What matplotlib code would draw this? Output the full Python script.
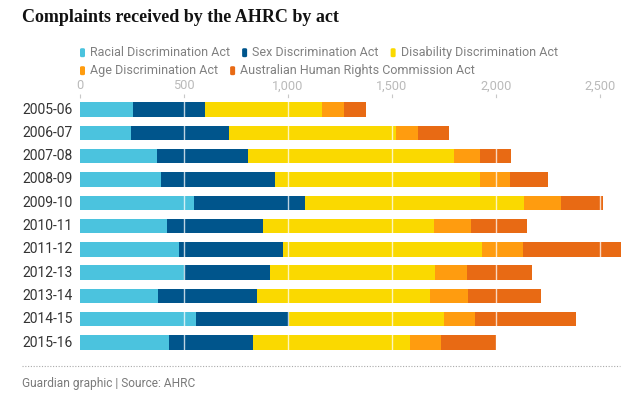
import matplotlib
matplotlib.use("Agg")
import matplotlib.pyplot as plt
from matplotlib.patches import FancyBboxPatch
from matplotlib.lines import Line2D
import numpy as np

years = ["2005-06", "2006-07", "2007-08", "2008-09", "2009-10", "2010-11",
         "2011-12", "2012-13", "2013-14", "2014-15", "2015-16"]
racial = [255, 244, 371, 390, 549, 417, 475, 502, 376, 558, 428]
sex = [347, 472, 438, 550, 533, 463, 502, 410, 475, 445, 405]
disability = [563, 804, 992, 983, 1054, 821, 958, 794, 833, 750, 753]
age = [106, 107, 125, 147, 177, 178, 198, 157, 181, 149, 152]
ahrc = [103, 148, 149, 182, 205, 270, 472, 313, 353, 486, 262]

series_names = ["Racial Discrimination Act", "Sex Discrimination Act",
                "Disability Discrimination Act", "Age Discrimination Act",
                "Australian Human Rights Commission Act"]
series_vals = [racial, sex, disability, age, ahrc]
colors = ["#4bc3de", "#00558c", "#fad900", "#ff9c0f", "#e86a14"]
xticks = [0, 500, 1000, 1500, 2000, 2500]
xticklabels = ["0", "500", "1,000", "1,500", "2,000", "2,500"]

W, H = 640, 400
fig = plt.figure(figsize=(6.4, 4.0), dpi=100)
fig.patch.set_facecolor("white")

def fx(px):
    return px / W

def fy(py):
    return 1 - py / H

SANS = "Roboto"
PX_PER_UNIT = 0.2079

# axes placement
left_px, right_px = 80, 80 + 2600 * PX_PER_UNIT
top_px, bot_px = 97.9, 354.2
ax = fig.add_axes([fx(left_px), fy(bot_px), fx(right_px - left_px), (bot_px - top_px) / H])

y = np.arange(len(years))
base = np.zeros(len(years))
for name, vals, c in zip(series_names, series_vals, colors):
    ax.barh(y, vals, left=base, height=0.62, color=c, edgecolor="none", zorder=2)
    base = base + np.array(vals)

ax.set_xlim(0, 2600)
ax.set_ylim(len(years) - 0.5, -0.5)
ax.set_yticks([])
ax.xaxis.tick_top()
ax.set_xticks(xticks)
ax.set_xticklabels(xticklabels, fontsize=9.2, color="#bababa", family=SANS)
ax.tick_params(axis="x", length=3, width=0.8, color="#c8c8c8", pad=1)
for s in ax.spines.values():
    s.set_visible(False)
for xv in xticks[1:]:
    ax.axvline(xv, color="white", lw=1.0, alpha=0.75, zorder=3)

# year labels (left of the plot area)
for i, yr in enumerate(years):
    ax.text((22 - left_px) / PX_PER_UNIT, i, yr,
            ha="left", va="center", fontsize=10, color="#333333", family=SANS)

# title
fig.text(fx(22), fy(17), "Complaints received by the AHRC by act", fontsize=13,
         fontweight="bold", family="Liberation Serif", color="#121212",
         ha="left", va="center")

# legend (flow layout)
fig.canvas.draw()
renderer = fig.canvas.get_renderer()
rows = [[0, 1, 2], [3, 4]]
row_y = [52.7, 70.7]
for r, items in enumerate(rows):
    xcur = 80
    for k in items:
        fig.patches.append(FancyBboxPatch((fx(xcur), fy(row_y[r] + 4.5)), fx(5), 9 / H,
                                          boxstyle="round,pad=0,rounding_size=0.003",
                                          transform=fig.transFigure, facecolor=colors[k],
                                          edgecolor="none"))
        t = fig.text(fx(xcur + 10), fy(row_y[r]), series_names[k], fontsize=9.0,
                     color="#808080", family=SANS, ha="left", va="center")
        bb = t.get_window_extent(renderer)
        xcur = bb.x1 + 12

# separator and footer
fig.lines.append(Line2D([fx(22), fx(620)], [fy(366), fy(366)], transform=fig.transFigure,
                        color="#aaaaaa", lw=0.8, linestyle=(0, (1, 1.5))))
fig.text(fx(22), fy(383), "Guardian graphic | Source: AHRC", fontsize=8.6,
         color="#7a7a7a", family=SANS, ha="left", va="center")

fig.savefig("out.png", dpi=100)
